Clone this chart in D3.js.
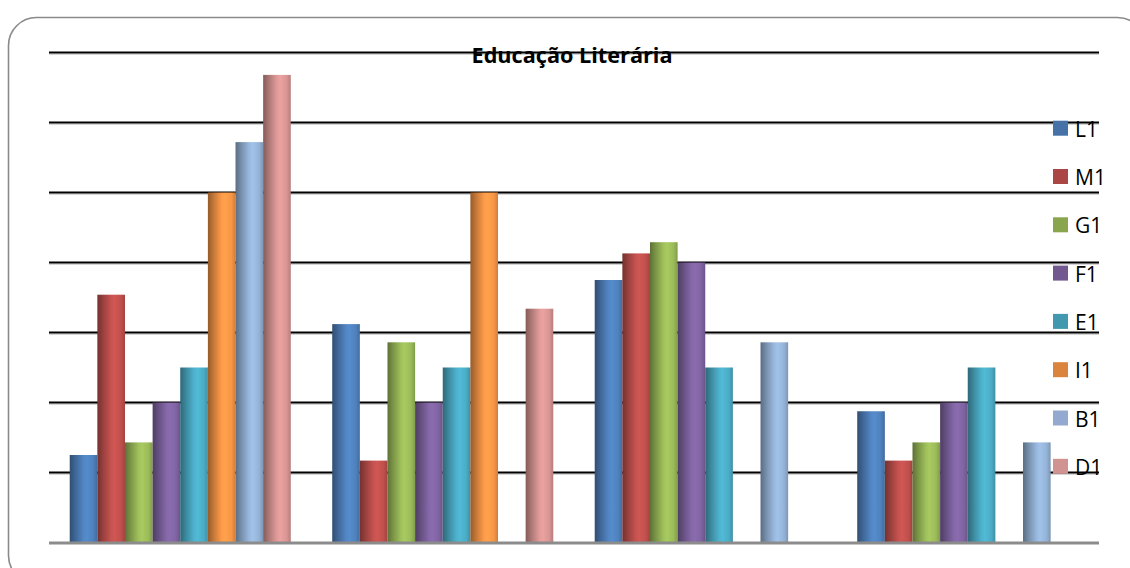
<!DOCTYPE html>
<html>
<head>
<meta charset="utf-8">
<script src="https://cdn.jsdelivr.net/npm/d3@7"></script>
<style>
  html, body { margin: 0; padding: 0; background: #fff; }
  svg { display: block; }
</style>
</head>
<body>
<svg id="chart" width="1130" height="568"></svg>
<script>
// ---- data ----
const title = "Educação Literária";
const groups = ["G1", "G2", "G3", "G4"];
const seriesNames = ["L1", "M1", "G1", "F1", "E1", "I1", "B1", "D1"];
const L1 = [1.25, 3.12, 3.75, 1.875];
const M1 = [3.54, 1.17, 4.13, 1.17];
const G1 = [1.43, 2.86, 4.29, 1.43];
const F1 = [2.0, 2.0, 4.0, 2.0];
const E1 = [2.5, 2.5, 2.5, 2.5];
const I1 = [5.0, 5.0, 0, 0];
const B1 = [5.72, 0, 2.86, 1.43];
const D1 = [6.68, 3.34, 0, 0];
const yTicks = [1, 2, 3, 4, 5, 6, 7];
const barColors = ["#4F81BD", "#C0504D", "#9BBB59", "#8064A2", "#4BACC6", "#F79646", "#95B3D7", "#D99694"];
const legendColors = ["#4672A8", "#AA4644", "#89A54E", "#71588F", "#4198AF", "#DB843D", "#93A9CF", "#D09392"];

const values = [L1, M1, G1, F1, E1, I1, B1, D1];

const svg = d3.select("#chart");
const plotLeft = 49, plotRight = 1099, plotTop = 52.5, plotBottom = 542.5;

// border
svg.append("rect")
  .attr("x", 8.5).attr("y", 17.5)
  .attr("width", 1137).attr("height", 566)
  .attr("rx", 28).attr("ry", 28)
  .attr("fill", "#fff")
  .attr("stroke", "#8a8a8a").attr("stroke-width", 1.6);

const y = d3.scaleLinear().domain([0, 7]).range([plotBottom, plotTop]);
const x0 = d3.scaleBand().domain(groups).range([plotLeft, plotRight]).padding(0);
const x1 = d3.scaleBand().domain(seriesNames).range([0, x0.bandwidth()])
  .paddingInner(0).paddingOuter(0.75);

// gradients
const defs = svg.append("defs");
barColors.forEach((c, i) => {
  const g = defs.append("linearGradient").attr("id", "grad" + i)
    .attr("x1", "0%").attr("x2", "100%").attr("y1", "0%").attr("y2", "0%");
  const base = d3.color(c);
  const stops = [
    [0, base.darker(1.4)],
    [0.22, base.darker(0.6)],
    [0.5, base.brighter(0.1)],
    [0.62, base.brighter(0.22)],
    [0.85, base],
    [1, base.darker(0.5)]
  ];
  stops.forEach(([o, col]) => g.append("stop").attr("offset", o).attr("stop-color", col.formatHex()));
});

// gridlines
const grid = svg.append("g");
grid.selectAll("line.shadow").data(yTicks).join("line")
  .attr("class", "shadow")
  .attr("x1", plotLeft).attr("x2", plotRight)
  .attr("y1", d => y(d) + 1.6).attr("y2", d => y(d) + 1.6)
  .attr("stroke", "#c8c8c8").attr("stroke-width", 1.2);
grid.selectAll("line.main").data(yTicks).join("line")
  .attr("class", "main")
  .attr("x1", plotLeft).attr("x2", plotRight)
  .attr("y1", d => y(d)).attr("y2", d => y(d))
  .attr("stroke", "#000").attr("stroke-width", 2.2);

// bars
const gGroups = svg.append("g").selectAll("g").data(groups).join("g")
  .attr("transform", d => `translate(${x0(d)},0)`);
gGroups.selectAll("rect")
  .data((g, gi) => seriesNames.map((s, si) => ({ s, si, v: values[si][gi] })).filter(d => d.v > 0))
  .join("rect")
  .attr("x", d => x1(d.s))
  .attr("width", x1.bandwidth())
  .attr("y", d => y(d.v))
  .attr("height", d => y(0) - y(d.v))
  .attr("fill", d => `url(#grad${d.si})`);

// baseline
svg.append("line")
  .attr("x1", plotLeft).attr("x2", plotRight)
  .attr("y1", y(0) + 0.5).attr("y2", y(0) + 0.5)
  .attr("stroke", "#8c8c8c").attr("stroke-width", 3);

// title
svg.append("text")
  .attr("x", 572).attr("y", 63)
  .attr("text-anchor", "middle")
  .attr("font-family", "'Open Sans', 'DejaVu Sans', sans-serif")
  .attr("font-weight", "bold")
  .attr("font-size", 21.5)
  .attr("textLength", 201)
  .attr("lengthAdjust", "spacingAndGlyphs")
  .attr("fill", "#000")
  .text(title);

// legend
const leg = svg.append("g").attr("transform", "translate(1053,120.7)");
const items = leg.selectAll("g").data(seriesNames).join("g")
  .attr("transform", (d, i) => `translate(0,${i * 48.3})`);
items.append("rect").attr("width", 15).attr("height", 15)
  .attr("fill", (d, i) => legendColors[i]);
items.append("text").attr("x", 22).attr("y", 16)
  .attr("font-family", "'Open Sans', sans-serif")
  .attr("font-size", 21)
  .attr("fill", "#000")
  .text(d => d);
</script>
</body>
</html>
